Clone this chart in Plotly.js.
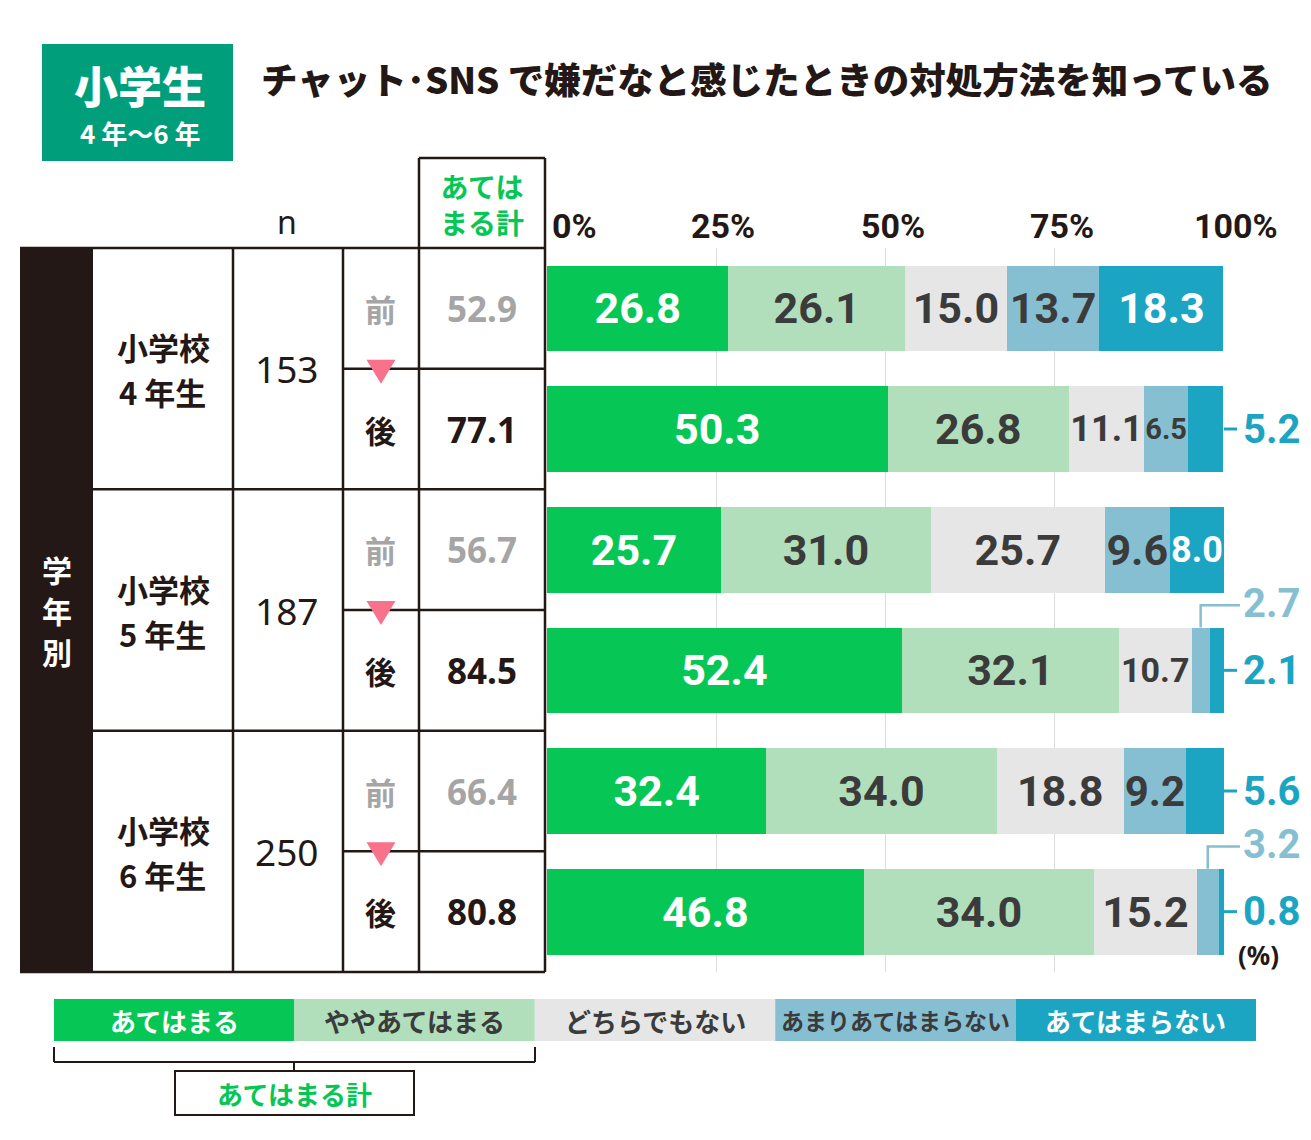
<!DOCTYPE html>
<html><head><meta charset="utf-8">
<script src="https://cdn.plot.ly/plotly-3.0.1.min.js"></script>
<style>body{margin:0;background:#fff}#chart{width:1311px;height:1140px}</style>
</head><body><div id="chart"></div>
<script>
// ---------- data ----------
const categories = ['あてはまる','ややあてはまる','どちらでもない','あまりあてはまらない','あてはまらない'];
const schoolLabel = '小学校';
const gradeLabels = ['4 年生','5 年生','6 年生'];
const nValues = ['153','187','250'];
const phases = ['前','後','前','後','前','後'];
const totals = [52.9, 77.1, 56.7, 84.5, 66.4, 80.8];
const atehamaru    = [26.8, 50.3, 25.7, 52.4, 32.4, 46.8];
const yaya         = [26.1, 26.8, 31.0, 32.1, 34.0, 34.0];
const dochira      = [15.0, 11.1, 25.7, 10.7, 18.8, 15.2];
const amari        = [13.7,  6.5,  9.6,  2.7,  9.2,  3.2];
const atehamaranai = [18.3,  5.2,  8.0,  2.1,  5.6,  0.8];
const tickVals = [0, 25, 50, 75, 100];
const tickLabels = ['0%','25%','50%','75%','100%'];
const titleText = 'チャット･SNS で嫌だなと感じたときの対処方法を知っている';
const badgeMain = '小学生';
const badgeSub = '4 年〜6 年';
const sideChars = ['学','年','別'];
const nHeader = 'n';
const totalHeader = 'あては<br>まる計';
const bracketLabel = 'あてはまる計';
const unitLabel = '(%)';
// labels drawn outside the bar: [row, series index]
const outsideLabels = [[1,4],[3,3],[3,4],[4,4],[5,3],[5,4]];

// ---------- styles / geometry ----------
const colors = ['#06c755','#b1dfbb','#e6e6e6','#86bfd2','#1ca5c3'];
const textColors = ['#ffffff','#3b3b3b','#3b3b3b','#3b3b3b','#ffffff'];
const legendTextSizes = [26,26,26,23,26];
const DARK = '#231815', GRAY = '#a5a5a5', PINK = '#f7728a', GREEN = '#06c755';
const JP = '"Noto Sans CJK JP", sans-serif';
const NUM = 'Roboto, "Noto Sans", sans-serif';
const W = 1311, H = 1140, L = 547, R = 1224, T = 248, B = 972;
const xRange = [0, 100], yRange = [5.5, -0.5];
const px = x => (x - L) / (R - L);
const py = y => (B - y) / (B - T);
const yP = r => (yRange[0] - r) / (yRange[0] - yRange[1]);
const rowPx = (B - T) / 6;
const dy = p => p / rowPx;
const pxPerUnit = (R - L) / 100;

const series = [atehamaru, yaya, dochira, amari, atehamaranai];
const rows = atehamaru.map((_, i) => i);
const isOutside = (r, s) => outsideLabels.some(o => o[0] === r && o[1] === s);
function fitSize(v) {
  const s = v.toFixed(1);
  const em = (s.length - 1) * 0.58 + 0.27;
  return Math.min(43, Math.floor(v * pxPerUnit * 0.97 / em));
}

const traces = series.map((vals, s) => ({
  type: 'bar', orientation: 'h', name: categories[s],
  x: vals, y: rows, width: 0.71,
  marker: { color: colors[s], line: { width: 0 } },
  text: vals.map((v, r) => isOutside(r, s) ? '' : v.toFixed(1)),
  textposition: 'inside', insidetextanchor: 'middle', textangle: 0,
  constraintext: 'none', cliponaxis: false,
  textfont: { family: NUM, size: vals.map(fitSize), color: textColors[s], weight: 700 },
  hoverinfo: 'skip', showlegend: false
}));

const shapes = [];
const ann = [];
const line = (x0, y0, x1, y1, w, c) => shapes.push({ type: 'line', xref: 'paper', yref: 'paper',
  x0: px(x0), y0: py(y0), x1: px(x1), y1: py(y1), line: { color: c || DARK, width: w || 2.5 } });
const lineP = (x0, y0, x1, y1, w, c) => shapes.push({ type: 'line', xref: 'paper', yref: 'paper',
  x0, y0, x1, y1, line: { color: c || DARK, width: w || 2.5 } });
const rect = (x0, y0, x1, y1, fill, lc, lw) => shapes.push({ type: 'rect', xref: 'paper', yref: 'paper',
  x0: px(x0), y0: py(y0), x1: px(x1), y1: py(y1), fillcolor: fill || 'rgba(0,0,0,0)',
  line: { color: lc || 'rgba(0,0,0,0)', width: lw || 0 } });
const text = (t, x, y, size, color, opts) => ann.push(Object.assign({
  text: t, xref: 'paper', yref: 'paper', x: px(x), y: py(y), showarrow: false,
  xanchor: 'center', yanchor: 'middle',
  font: { family: JP, size, color: color || DARK, weight: 700 }
}, opts || {}));
const rowText = (t, x, r, font, opts) => ann.push(Object.assign({
  text: t, xref: 'paper', yref: 'y', x: px(x), y: r, showarrow: false,
  xanchor: 'center', yanchor: 'middle', font }, opts || {}));

// ---------- header ----------
rect(42, 44, 233, 161, '#009e7b');
text(badgeMain, 140, 85, 44, '#ffffff', { font: { family: JP, size: 44, color: '#fff', weight: 900 } });
text(badgeSub, 140, 133, 26, '#ffffff');
text(titleText, 259, 78, 36.5, DARK, { xanchor: 'left', font: { family: JP, size: 36.5, color: DARK, weight: 900 } });

// ---------- axis tick labels (top) ----------
tickVals.forEach((v, i) => {
  ann.push({ text: tickLabels[i], xref: 'x', yref: 'paper', x: v, y: py(226), showarrow: false,
    xanchor: i === 0 ? 'left' : 'center', yanchor: 'middle',
    xshift: i === 0 ? 3 : (i === tickVals.length - 1 ? 12 : 7),
    font: { family: NUM, size: 34, color: DARK, weight: 700 } });
});

// ---------- left table ----------
rect(20, 248, 93, 972, DARK);
line(20, 248, 545, 248);
line(20, 972, 545, 972);
[233, 343, 419, 545].forEach(x => line(x, 248, x, 972));
line(419, 158, 419, 248); line(545, 158, 545, 248); line(419, 158, 545, 158);
[1.5, 3.5].forEach(b => lineP(px(93), yP(b), px(545), yP(b)));
[0.5, 2.5, 4.5].forEach(b => lineP(px(343), yP(b), px(545), yP(b)));
text(nHeader, 287, 222, 32, DARK, { font: { family: '"Noto Sans", sans-serif', size: 32, color: DARK, weight: 400 } });
text(totalHeader, 482, 204, 28, GREEN);
sideChars.forEach((ch, k) => {
  rowText(ch, 57, 2.5, { family: JP, size: 30, color: '#fff', weight: 700 }, { yshift: (1 - k) * 41 });
});

gradeLabels.forEach((g, i) => {
  const center = i * 2 + 0.5;
  rowText(schoolLabel, 163, center, { family: JP, size: 31, color: DARK, weight: 700 }, { yshift: 22 });
  rowText(g, 162, center, { family: JP, size: 31, color: DARK, weight: 700 }, { yshift: -23 });
  rowText(nValues[i], 287, center, { family: '"Noto Sans", sans-serif', size: 37, color: DARK, weight: 400 });
  // down triangle
  const cx = px(381), hw = 14.5 / (R - L);
  shapes.push({ type: 'path', xref: 'paper', yref: 'paper',
    path: `M ${cx - hw},${yP(center - dy(9))} L ${cx + hw},${yP(center - dy(9))} L ${cx},${yP(center + dy(15))} Z`,
    fillcolor: PINK, line: { width: 0 } });
});
phases.forEach((p, r) => {
  const c = r % 2 === 0 ? GRAY : DARK;
  rowText(p, 380, r, { family: JP, size: 31, color: c, weight: 700 });
  rowText(totals[r].toFixed(1), 482, r, { family: '"Noto Sans", sans-serif', size: 35, color: c, weight: 700 });
});

// ---------- outside labels ----------
outsideLabels.forEach(([r, s]) => {
  const v = series[s][r];
  const startV = series.slice(0, s).reduce((a, arr) => a + arr[r], 0);
  const mid = startV + v / 2;
  if (s === 4) {
    lineP(1, yP(r), 1 + 13 / (R - L), yP(r), 3, colors[4]);
    ann.push({ text: v.toFixed(1), xref: 'paper', yref: 'y', x: 1, y: r, xanchor: 'left', yanchor: 'middle', xshift: 17,
      showarrow: false, font: { family: NUM, size: 40, color: colors[4], weight: 700 } });
  } else {
    const top = r - 0.355, up = r - 0.54;
    shapes.push({ type: 'path', xref: 'paper', yref: 'paper',
      path: `M ${mid / 100},${yP(top)} L ${mid / 100},${yP(up)} L ${1 + 16 / (R - L)},${yP(up)}`,
      line: { color: colors[3], width: 2.5 } });
    ann.push({ text: v.toFixed(1), xref: 'paper', yref: 'y', x: 1, y: up, xanchor: 'left', yanchor: 'middle', xshift: 17, yshift: 2,
      showarrow: false, font: { family: NUM, size: 40, color: colors[3], weight: 700 } });
  }
});
text(unitLabel, 1258, 955, 26, DARK, { font: { family: '"Noto Sans", sans-serif', size: 26, color: DARK, weight: 700 } });

// ---------- legend ----------
const legX0 = 54, legW = 240.4;
categories.forEach((c, i) => {
  const x0 = legX0 + i * legW;
  rect(x0, 999, x0 + legW, 1041, colors[i]);
  text(c, x0 + legW / 2, 1020, legendTextSizes[i], textColors[i]);
});
line(54, 1047, 54, 1062, 2); line(535, 1047, 535, 1062, 2); line(54, 1062, 535, 1062, 2);
line(294, 1062, 294, 1071, 2);
rect(175, 1071, 414, 1115, '#fff', DARK, 2);
text(bracketLabel, 294, 1093, 26, GREEN);

const layout = {
  width: W, height: H, paper_bgcolor: '#fff', plot_bgcolor: '#fff',
  margin: { l: L, r: W - R, t: T, b: H - B, pad: 0 },
  barmode: 'stack', bargap: 0,
  xaxis: { range: xRange, tickvals: tickVals, showticklabels: false, showgrid: true,
    gridcolor: '#dcdcdc', gridwidth: 1, zeroline: false, showline: false, ticks: '', fixedrange: true },
  yaxis: { range: yRange, showticklabels: false, showgrid: false, zeroline: false, showline: false,
    ticks: '', fixedrange: true },
  shapes, annotations: ann, showlegend: false
};
Plotly.newPlot('chart', traces, layout, { staticPlot: true, displayModeBar: false });
</script></body></html>
